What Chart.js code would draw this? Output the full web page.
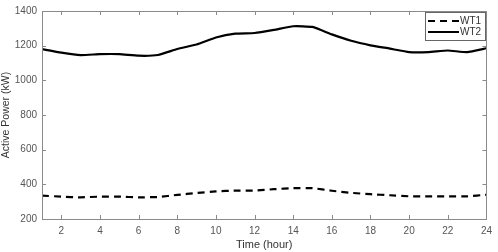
<!DOCTYPE html>
<html><head><meta charset="utf-8">
<script src="https://cdn.jsdelivr.net/npm/chart.js@4.4.1/dist/chart.umd.min.js"></script>
<style>html,body{margin:0;padding:0;background:#fff}#wrap{width:498px;height:252px}</style>
</head><body><div id="wrap"><canvas id="c" width="498" height="252"></canvas></div>
<script>
const hours = [1,2,3,4,5,6,7,8,9,10,11,12,13,14,15,16,17,18,19,20,21,22,23,24];
const wt1 = [335,329,325,329,329,325,327,339,350,359,364,364,372,378,378,363,351,343,337,331,331,331,331,340];
const wt2 = [1180,1160,1146,1151,1151,1142,1146,1181,1207,1247,1269,1273,1291,1312,1308,1265,1228,1202,1183,1163,1163,1172,1163,1185];
const xTicks = [2,4,6,8,10,12,14,16,18,20,22,24];
const yTicks = [200,400,600,800,1000,1200,1400];
const seriesNames = ['WT1','WT2'];

const FONT = 'Liberation Sans, Arial, sans-serif';
const axisColor = '#8a8a8a';

const frame = {
  id: 'frame',
  afterDraw(chart) {
    const {ctx, chartArea: a, scales: {x, y}} = chart;
    ctx.save();
    ctx.strokeStyle = axisColor;
    ctx.lineWidth = 1;
    ctx.strokeRect(Math.round(a.left)+0.5, Math.round(a.top)+0.5, Math.round(a.right-a.left), Math.round(a.bottom-a.top));
    ctx.beginPath();
    const tl = 4;
    xTicks.forEach(v => {
      const px = Math.round(x.getPixelForValue(v)) + 0.5;
      ctx.moveTo(px, a.bottom); ctx.lineTo(px, a.bottom - tl);
      ctx.moveTo(px, a.top); ctx.lineTo(px, a.top + tl);
    });
    yTicks.forEach(v => {
      const py = Math.round(y.getPixelForValue(v)) + 0.5;
      ctx.moveTo(a.left, py); ctx.lineTo(a.left + tl, py);
      ctx.moveTo(a.right, py); ctx.lineTo(a.right - tl, py);
    });
    ctx.stroke();
    // legend
    const lx = 425, ly = 12, lw = 60, lh = 28;
    ctx.fillStyle = '#fff';
    ctx.fillRect(lx, ly, lw, lh);
    ctx.strokeStyle = '#666';
    ctx.strokeRect(lx+0.5, ly+0.5, lw, lh);
    chart.data.datasets.forEach((ds, i) => {
      const yy = ly + 9 + i*11;
      ctx.beginPath();
      ctx.strokeStyle = '#000';
      ctx.lineWidth = 2;
      ctx.setLineDash(ds.borderDash || []);
      ctx.moveTo(lx + 3, yy); ctx.lineTo(lx + 34, yy);
      ctx.stroke();
      ctx.setLineDash([]);
      ctx.fillStyle = '#333';
      ctx.font = '10px ' + FONT;
      ctx.textBaseline = 'middle';
      ctx.fillText(ds.label, lx + 35, yy + 0.5);
    });
    ctx.restore();
  }
};

new Chart(document.getElementById('c'), {
  type: 'line',
  data: {
    datasets: [
      { label: seriesNames[0], data: hours.map((h,i)=>({x:h,y:wt1[i]})), borderColor:'#000', borderWidth:2.2, borderDash:[7,5], pointRadius:0, tension:0.15, fill:false },
      { label: seriesNames[1], data: hours.map((h,i)=>({x:h,y:wt2[i]})), borderColor:'#000', borderWidth:2.2, pointRadius:0, tension:0.15, fill:false }
    ]
  },
  options: {
    responsive: false,
    animation: false,
    layout: { padding: { top: 5, right: 7, left: 0, bottom: 0 } },
    plugins: { legend: { display: false }, tooltip: { enabled: false } },
    scales: {
      x: {
        type: 'linear', min: 1, max: 24,
        afterBuildTicks: s => { s.ticks = xTicks.map(v => ({value: v})); },
        afterFit: s => { s.height = 33; },
        grid: { display: false, drawTicks: false },
        border: { display: false },
        ticks: { color: '#555', font: { size: 10, family: FONT }, padding: 6, maxRotation: 0, callback: v => String(v) },
        title: { display: true, text: 'Time (hour)', color: '#333', font: { size: 11, family: FONT }, padding: { top: 1, bottom: 0 } }
      },
      y: {
        min: 200, max: 1400,
        afterBuildTicks: s => { s.ticks = yTicks.map(v => ({value: v})); },
        afterFit: s => { s.width = 42; },
        grid: { display: false, drawTicks: false },
        border: { display: false },
        ticks: { color: '#555', font: { size: 10, family: FONT }, padding: 5, callback: v => String(v) },
        title: { display: true, text: 'Active Power (kW)', color: '#333', font: { size: 10.5, family: FONT }, padding: { top: 0, bottom: 2 } }
      }
    }
  },
  plugins: [frame]
});
</script>
</body></html>
